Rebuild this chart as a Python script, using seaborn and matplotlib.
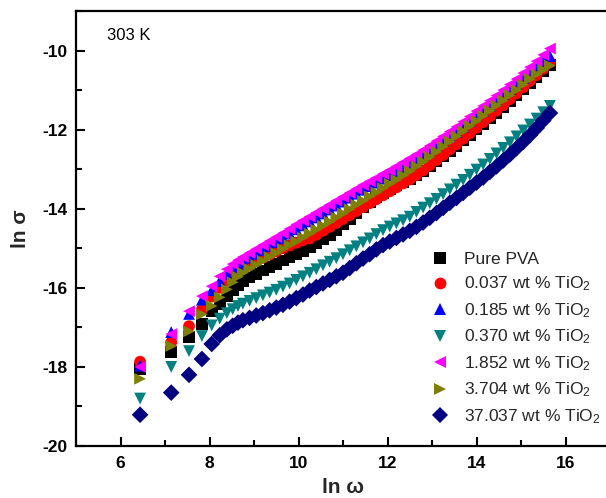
import matplotlib
matplotlib.use("Agg")
import matplotlib.pyplot as plt
import numpy as np
import pandas as pd
import seaborn as sns

# ---------------- data ----------------
ln_w = [6.44, 7.14, 7.54, 7.83, 8.05, 8.23, 8.39, 8.52, 8.64, 8.75,
        8.90, 9.05, 9.20, 9.35, 9.50, 9.65, 9.80, 9.95, 10.10, 10.25,
        10.40, 10.55, 10.70, 10.85, 11.00, 11.15, 11.30, 11.45, 11.60, 11.75,
        11.90, 12.05, 12.20, 12.35, 12.50, 12.65, 12.80, 12.95, 13.10, 13.25,
        13.40, 13.55, 13.70, 13.85, 14.00, 14.15, 14.30, 14.45, 14.60, 14.75,
        14.90, 15.05, 15.20, 15.35, 15.50, 15.65]

pure_pva = [-18.05, -17.63, -17.25, -16.92, -16.60, -16.40, -16.20, -16.05, -15.93, -15.83,
            -15.74, -15.65, -15.56, -15.47, -15.39, -15.31, -15.23, -15.15, -15.07, -14.98,
            -14.88, -14.77, -14.66, -14.54, -14.40, -14.25, -14.10, -13.96, -13.83, -13.71,
            -13.60, -13.50, -13.41, -13.33, -13.25, -13.15, -13.04, -12.92, -12.80, -12.67,
            -12.54, -12.41, -12.27, -12.13, -11.99, -11.85, -11.71, -11.57, -11.42, -11.27,
            -11.12, -10.97, -10.82, -10.67, -10.51, -10.36]

tio2_0037 = [-17.87, -17.38, -16.97, -16.55, -16.22, -16.00, -15.82, -15.68, -15.57, -15.48,
             -15.40, -15.32, -15.24, -15.16, -15.08, -15.00, -14.93, -14.86, -14.80, -14.75,
             -14.66, -14.56, -14.46, -14.36, -14.26, -14.16, -14.06, -13.96, -13.86, -13.76,
             -13.66, -13.56, -13.46, -13.36, -13.26, -13.15, -13.03, -12.90, -12.77, -12.64,
             -12.50, -12.37, -12.23, -12.09, -11.95, -11.81, -11.67, -11.52, -11.38, -11.23,
             -11.08, -10.93, -10.77, -10.62, -10.46, -10.30]

tio2_0185 = [-17.97, -17.12, -16.66, -16.30, -16.06, -15.83, -15.65, -15.52, -15.42, -15.34,
             -15.24, -15.14, -15.04, -14.94, -14.84, -14.74, -14.63, -14.52, -14.42, -14.32,
             -14.22, -14.12, -14.02, -13.92, -13.82, -13.72, -13.62, -13.52, -13.43, -13.34,
             -13.24, -13.15, -13.05, -12.95, -12.85, -12.75, -12.64, -12.53, -12.41, -12.29,
             -12.17, -12.05, -11.92, -11.79, -11.65, -11.52, -11.39, -11.26, -11.12, -10.98,
             -10.85, -10.70, -10.56, -10.41, -10.27, -10.14]

tio2_0370 = [-18.80, -18.00, -17.60, -17.22, -16.95, -16.78, -16.64, -16.54, -16.46, -16.40,
             -16.33, -16.26, -16.19, -16.12, -16.05, -15.97, -15.89, -15.80, -15.71, -15.62,
             -15.53, -15.43, -15.34, -15.25, -15.15, -15.05, -14.95, -14.85, -14.75, -14.64,
             -14.54, -14.45, -14.37, -14.29, -14.20, -14.08, -13.97, -13.86, -13.75, -13.63,
             -13.51, -13.39, -13.27, -13.14, -13.01, -12.88, -12.74, -12.60, -12.46, -12.32,
             -12.17, -12.02, -11.87, -11.72, -11.56, -11.40]

tio2_1852 = [-18.00, -17.17, -16.59, -16.21, -15.96, -15.71, -15.53, -15.40, -15.30, -15.22,
             -15.12, -15.02, -14.92, -14.82, -14.72, -14.62, -14.51, -14.40, -14.30, -14.20,
             -14.10, -14.00, -13.90, -13.80, -13.70, -13.60, -13.50, -13.40, -13.31, -13.22,
             -13.12, -13.03, -12.93, -12.83, -12.73, -12.63, -12.52, -12.41, -12.29, -12.17,
             -12.05, -11.93, -11.80, -11.67, -11.53, -11.40, -11.27, -11.14, -11.00, -10.86,
             -10.72, -10.57, -10.42, -10.27, -10.11, -9.95]

tio2_3704 = [-18.30, -17.47, -17.10, -16.67, -16.46, -16.24, -16.04, -15.86, -15.72, -15.62,
             -15.52, -15.42, -15.32, -15.22, -15.12, -15.02, -14.92, -14.83, -14.73, -14.63,
             -14.53, -14.43, -14.33, -14.22, -14.12, -14.01, -13.90, -13.80, -13.69, -13.59,
             -13.48, -13.37, -13.27, -13.16, -13.05, -12.93, -12.81, -12.69, -12.56, -12.43,
             -12.30, -12.17, -12.04, -11.91, -11.78, -11.65, -11.52, -11.39, -11.26, -11.13,
             -11.00, -10.86, -10.72, -10.60, -10.49, -10.38]

tio2_37037 = [-19.21, -18.65, -18.20, -17.80, -17.42, -17.20, -17.05, -16.96, -16.88, -16.82,
              -16.76, -16.70, -16.64, -16.57, -16.50, -16.43, -16.35, -16.26, -16.17, -16.07,
              -15.98, -15.89, -15.80, -15.71, -15.62, -15.50, -15.38, -15.26, -15.15, -15.03,
              -14.92, -14.83, -14.74, -14.65, -14.56, -14.46, -14.35, -14.23, -14.11, -13.98,
              -13.85, -13.73, -13.60, -13.47, -13.34, -13.21, -13.07, -12.93, -12.78, -12.63,
              -12.47, -12.31, -12.14, -11.96, -11.77, -11.58]

labels = ["Pure PVA",
          r"0.037 wt % TiO$_2$",
          r"0.185 wt % TiO$_2$",
          r"0.370 wt % TiO$_2$",
          r"1.852 wt % TiO$_2$",
          r"3.704 wt % TiO$_2$",
          r"37.037 wt % TiO$_2$"]
series = [pure_pva, tio2_0037, tio2_0185, tio2_0370, tio2_1852, tio2_3704, tio2_37037]
colors = ["#000000", "#FF0000", "#0000FF", "#008080", "#FF00FF", "#808000", "#000080"]
marker_list = ["s", "o", "^", "v", "<", ">", "D"]

x_ticks = [6, 8, 10, 12, 14, 16]
y_ticks = [-20, -18, -16, -14, -12, -10]

# ---------------- build table ----------------
rows = []
for lab, ys in zip(labels, series):
    for xv, yv in zip(ln_w, ys):
        rows.append({"lnw": xv, "lns": yv, "sample": lab})
df = pd.DataFrame(rows)

# ---------------- style ----------------
sns.set_theme(style="ticks")
plt.rcParams["font.family"] = ["Liberation Sans", "DejaVu Sans"]
plt.rcParams["mathtext.fontset"] = "custom"
plt.rcParams["mathtext.rm"] = "Liberation Sans"
plt.rcParams["mathtext.it"] = "Liberation Sans:italic"
plt.rcParams["mathtext.bf"] = "Liberation Sans:bold"
plt.rcParams["axes.unicode_minus"] = False

fig = plt.figure(figsize=(6.06, 4.98), dpi=100)
ax = fig.add_axes([76 / 606, 52 / 498, 534 / 606, 435 / 498])

sns.scatterplot(data=df, x="lnw", y="lns", hue="sample", style="sample",
                hue_order=labels, style_order=labels,
                palette=dict(zip(labels, colors)),
                markers=dict(zip(labels, marker_list)),
                s=72, linewidth=0, edgecolor="none", ax=ax, legend=True)

ax.set_xlim(5, 17)
ax.set_ylim(-20, -9)
ax.set_xticks(x_ticks)
ax.set_yticks(y_ticks)
ax.set_xticks([5, 7, 9, 11, 13, 15, 17], minor=True)
ax.set_yticks([-19, -17, -15, -13, -11, -9], minor=True)
ax.set_xticklabels([str(t) for t in x_ticks], fontweight="bold")
ax.set_yticklabels([str(t) for t in y_ticks], fontweight="bold")
ax.tick_params(which="both", direction="in", width=1.5, colors="black",
               labelsize=12.5, top=False, right=False)
ax.tick_params(which="major", length=6.5)
ax.tick_params(which="minor", length=4)
ax.tick_params(axis="x", which="major", pad=7)
ax.tick_params(axis="y", which="major", pad=6)
for side in ["left", "bottom", "top"]:
    ax.spines[side].set_linewidth(1.6)
    ax.spines[side].set_color("black")
ax.spines["right"].set_visible(False)

ax.set_xlabel("ln ω", fontsize=15, fontweight="bold", labelpad=5)
ax.set_ylabel("ln σ", fontsize=15, fontweight="bold", labelpad=9)

ax.text(31 / 534, 1 - 17 / 435, "303 K", transform=ax.transAxes,
        ha="left", va="top", fontsize=12, color="black")

handles, labs = ax.get_legend_handles_labels()
ax.legend(handles, labs, loc="upper left",
          bbox_to_anchor=(423 / 606, 1 - 243 / 498), bbox_transform=fig.transFigure,
          frameon=False, fontsize=12.5, borderpad=0, handletextpad=0.85,
          handlelength=1.0, labelspacing=0.45, markerscale=1.0)

fig.savefig("out.png", dpi=100)
